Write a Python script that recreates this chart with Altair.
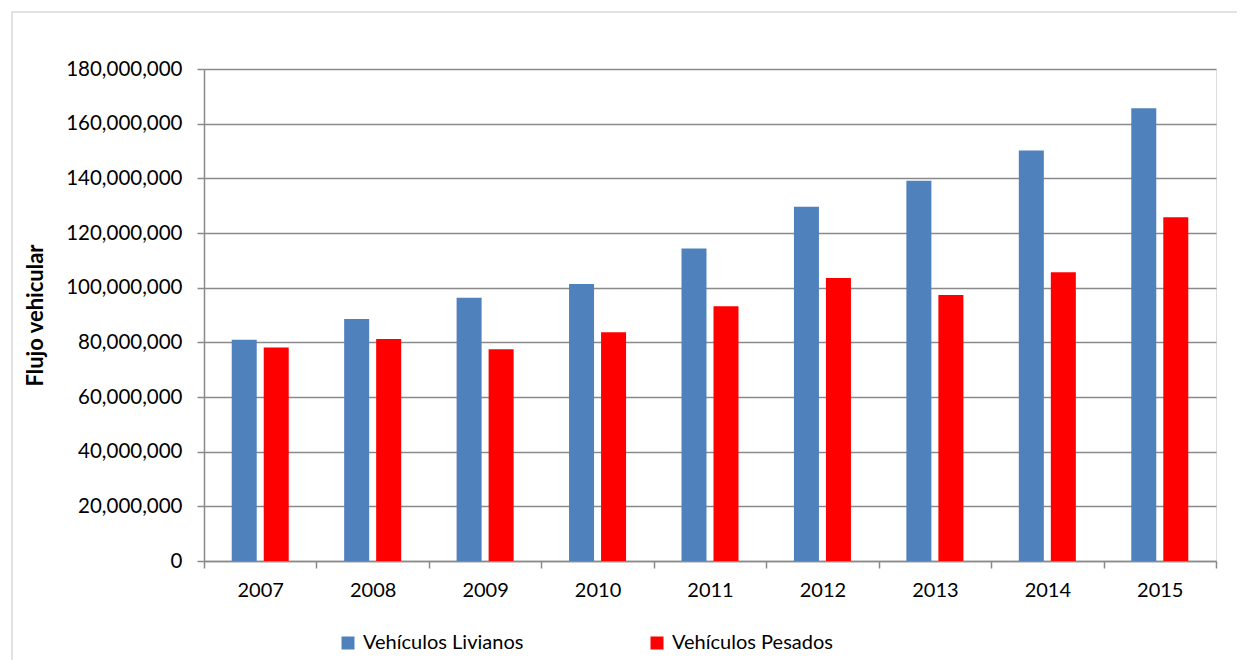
import altair as alt
import pandas as pd

years = ["2007", "2008", "2009", "2010", "2011", "2012", "2013", "2014", "2015"]
livianos = [80_900_000, 88_500_000, 96_300_000, 101_300_000, 114_300_000,
            129_600_000, 139_100_000, 150_200_000, 165_600_000]
pesados = [78_100_000, 81_200_000, 77_500_000, 83_700_000, 93_200_000,
           103_500_000, 97_300_000, 105_600_000, 125_800_000]
series = ["Vehículos Livianos", "Vehículos Pesados"]
colors = ["#4F81BD", "#FF0000"]
y_ticks = [0, 20_000_000, 40_000_000, 60_000_000, 80_000_000, 100_000_000,
           120_000_000, 140_000_000, 160_000_000, 180_000_000]

rows = []
for i, yr in enumerate(years):
    rows.append({"year": yr, "serie": series[0], "valor": livianos[i]})
    rows.append({"year": yr, "serie": series[1], "valor": pesados[i]})
df = pd.DataFrame(rows)

FONT = "Lato"
GRID = "#8a8a8a"

bars = alt.Chart(df).mark_bar().encode(
    x=alt.X("year:N", sort=years,
            scale=alt.Scale(paddingInner=0, paddingOuter=0),
            axis=alt.Axis(title=None, labelAngle=0, tickBand="extent",
                          domainColor=GRID, domainWidth=1.5,
                          tickColor=GRID, tickWidth=1.5, tickSize=7,
                          labelFont=FONT, labelFontSize=20, labelColor="#000",
                          labelPadding=12, grid=False)),
    xOffset=alt.XOffset("serie:N", sort=series,
                        scale=alt.Scale(paddingInner=0.21875, paddingOuter=0.8656)),
    y=alt.Y("valor:Q",
            scale=alt.Scale(domain=[0, 180_000_000], nice=False),
            axis=alt.Axis(title="Flujo vehicular", format=",d", values=y_ticks,
                          domainColor=GRID, domainWidth=1.5,
                          tickColor=GRID, tickWidth=1.5, tickSize=7,
                          gridColor=GRID, gridWidth=1.5,
                          labelFont=FONT, labelFontSize=20.5, labelColor="#000",
                          labelPadding=15, labelLimit=300,
                          titleFont=FONT, titleFontSize=22, titleFontWeight="bold",
                          titleColor="#000", titlePadding=18)),
    color=alt.Color("serie:N",
                    scale=alt.Scale(domain=series, range=colors),
                    legend=alt.Legend(title=None, orient="none", direction="horizontal",
                                      legendX=134, legendY=564, columns=2,
                                      columnPadding=123, symbolType="square",
                                      symbolSize=169, symbolStrokeWidth=0,
                                      labelFont=FONT, labelFontSize=20,
                                      labelColor="#000", labelOffset=5, padding=0,
                                      labelLimit=400)),
)

border_df = pd.DataFrame({"k": [0]})
border = alt.Chart(border_df).mark_rect(fill=None, stroke="#d9d9d9", strokeWidth=1.5).encode(
    x=alt.value(-192), x2=alt.value(1100), y=alt.value(-57), y2=alt.value(700)
)

chart = alt.layer(border, bars).properties(
    width=1012, height=492,
    autosize=alt.AutoSizeParams(type="none"),
    padding={"left": 196, "top": 61, "right": 21, "bottom": 99},
).configure_view(stroke=None).configure(background="white")

chart.save("out.html", embed_options={"renderer": "svg", "actions": False})
